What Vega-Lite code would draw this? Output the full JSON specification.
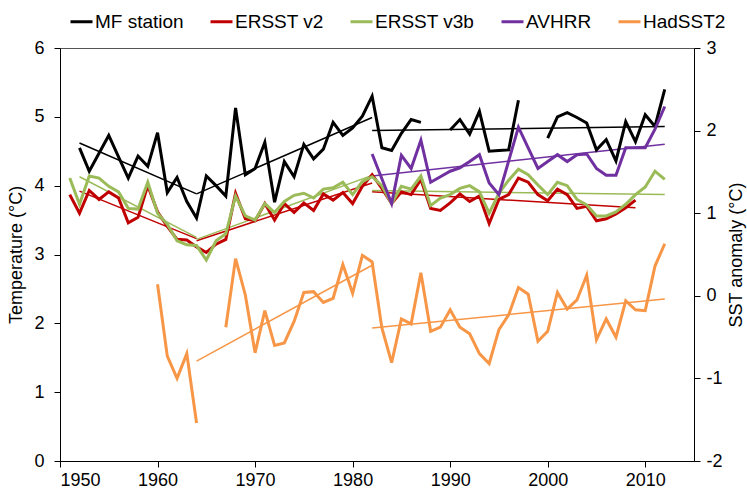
{
  "$schema": "https://vega.github.io/schema/vega-lite/v6.json",
  "width": 634,
  "height": 413,
  "autosize": {"type": "none"},
  "padding": {"left": 60, "top": 48, "right": 53, "bottom": 31},
  "background": "white",
  "config": {
    "view": {"stroke": "#555555", "strokeWidth": 1},
    "font": "Liberation Sans",
    "axis": {
      "grid": false,
      "domainColor": "#000000",
      "tickColor": "#000000",
      "labelColor": "#000000",
      "titleColor": "#000000",
      "labelFont": "Liberation Sans",
      "titleFont": "Liberation Sans",
      "labelFontSize": 18,
      "titleFontSize": 18,
      "titleFontWeight": "normal",
      "tickSize": 6,
      "domainWidth": 1
    }
  },
  "datasets": {
    "obs": [
      {"series":"MF station","seg":"MFa","year":1952,"value":4.55},
      {"series":"MF station","seg":"MFa","year":1953,"value":4.21},
      {"series":"MF station","seg":"MFa","year":1954,"value":4.47},
      {"series":"MF station","seg":"MFa","year":1955,"value":4.73},
      {"series":"MF station","seg":"MFa","year":1956,"value":4.42},
      {"series":"MF station","seg":"MFa","year":1957,"value":4.11},
      {"series":"MF station","seg":"MFa","year":1958,"value":4.43},
      {"series":"MF station","seg":"MFa","year":1959,"value":4.28},
      {"series":"MF station","seg":"MFa","year":1960,"value":4.77},
      {"series":"MF station","seg":"MFa","year":1961,"value":3.90},
      {"series":"MF station","seg":"MFa","year":1962,"value":4.12},
      {"series":"MF station","seg":"MFa","year":1963,"value":3.77},
      {"series":"MF station","seg":"MFa","year":1964,"value":3.53},
      {"series":"MF station","seg":"MFa","year":1965,"value":4.14},
      {"series":"MF station","seg":"MFa","year":1966,"value":4.00},
      {"series":"MF station","seg":"MFa","year":1967,"value":3.85},
      {"series":"MF station","seg":"MFa","year":1968,"value":5.13},
      {"series":"MF station","seg":"MFa","year":1969,"value":4.16},
      {"series":"MF station","seg":"MFa","year":1970,"value":4.25},
      {"series":"MF station","seg":"MFa","year":1971,"value":4.63},
      {"series":"MF station","seg":"MFa","year":1972,"value":3.76},
      {"series":"MF station","seg":"MFa","year":1973,"value":4.35},
      {"series":"MF station","seg":"MFa","year":1974,"value":4.13},
      {"series":"MF station","seg":"MFa","year":1975,"value":4.60},
      {"series":"MF station","seg":"MFa","year":1976,"value":4.39},
      {"series":"MF station","seg":"MFa","year":1977,"value":4.53},
      {"series":"MF station","seg":"MFa","year":1978,"value":4.92},
      {"series":"MF station","seg":"MFa","year":1979,"value":4.73},
      {"series":"MF station","seg":"MFa","year":1980,"value":4.84},
      {"series":"MF station","seg":"MFa","year":1981,"value":5.01},
      {"series":"MF station","seg":"MFa","year":1982,"value":5.30},
      {"series":"MF station","seg":"MFa","year":1983,"value":4.55},
      {"series":"MF station","seg":"MFa","year":1984,"value":4.51},
      {"series":"MF station","seg":"MFa","year":1985,"value":4.76},
      {"series":"MF station","seg":"MFa","year":1986,"value":4.96},
      {"series":"MF station","seg":"MFa","year":1987,"value":4.92},
      {"series":"MF station","seg":"MFb","year":1990,"value":4.81},
      {"series":"MF station","seg":"MFb","year":1991,"value":4.96},
      {"series":"MF station","seg":"MFb","year":1992,"value":4.75},
      {"series":"MF station","seg":"MFb","year":1993,"value":5.08},
      {"series":"MF station","seg":"MFb","year":1994,"value":4.50},
      {"series":"MF station","seg":"MFb","year":1995,"value":4.51},
      {"series":"MF station","seg":"MFb","year":1996,"value":4.52},
      {"series":"MF station","seg":"MFb","year":1997,"value":5.24},
      {"series":"MF station","seg":"MFc","year":2000,"value":4.69},
      {"series":"MF station","seg":"MFc","year":2001,"value":5.00},
      {"series":"MF station","seg":"MFc","year":2002,"value":5.06},
      {"series":"MF station","seg":"MFc","year":2003,"value":4.99},
      {"series":"MF station","seg":"MFc","year":2004,"value":4.91},
      {"series":"MF station","seg":"MFc","year":2005,"value":4.52},
      {"series":"MF station","seg":"MFc","year":2006,"value":4.67},
      {"series":"MF station","seg":"MFc","year":2007,"value":4.36},
      {"series":"MF station","seg":"MFc","year":2008,"value":4.93},
      {"series":"MF station","seg":"MFc","year":2009,"value":4.64},
      {"series":"MF station","seg":"MFc","year":2010,"value":5.03},
      {"series":"MF station","seg":"MFc","year":2011,"value":4.86},
      {"series":"MF station","seg":"MFc","year":2012,"value":5.40},

      {"series":"ERSST v2","seg":"V2","year":1951,"value":3.87},
      {"series":"ERSST v2","seg":"V2","year":1952,"value":3.60},
      {"series":"ERSST v2","seg":"V2","year":1953,"value":3.93},
      {"series":"ERSST v2","seg":"V2","year":1954,"value":3.80},
      {"series":"ERSST v2","seg":"V2","year":1955,"value":3.91},
      {"series":"ERSST v2","seg":"V2","year":1956,"value":3.82},
      {"series":"ERSST v2","seg":"V2","year":1957,"value":3.46},
      {"series":"ERSST v2","seg":"V2","year":1958,"value":3.54},
      {"series":"ERSST v2","seg":"V2","year":1959,"value":4.00},
      {"series":"ERSST v2","seg":"V2","year":1960,"value":3.62},
      {"series":"ERSST v2","seg":"V2","year":1961,"value":3.41},
      {"series":"ERSST v2","seg":"V2","year":1962,"value":3.22},
      {"series":"ERSST v2","seg":"V2","year":1963,"value":3.21},
      {"series":"ERSST v2","seg":"V2","year":1964,"value":3.11},
      {"series":"ERSST v2","seg":"V2","year":1965,"value":3.03},
      {"series":"ERSST v2","seg":"V2","year":1966,"value":3.15},
      {"series":"ERSST v2","seg":"V2","year":1967,"value":3.22},
      {"series":"ERSST v2","seg":"V2","year":1968,"value":3.89},
      {"series":"ERSST v2","seg":"V2","year":1969,"value":3.52},
      {"series":"ERSST v2","seg":"V2","year":1970,"value":3.49},
      {"series":"ERSST v2","seg":"V2","year":1971,"value":3.74},
      {"series":"ERSST v2","seg":"V2","year":1972,"value":3.50},
      {"series":"ERSST v2","seg":"V2","year":1973,"value":3.74},
      {"series":"ERSST v2","seg":"V2","year":1974,"value":3.61},
      {"series":"ERSST v2","seg":"V2","year":1975,"value":3.75},
      {"series":"ERSST v2","seg":"V2","year":1976,"value":3.64},
      {"series":"ERSST v2","seg":"V2","year":1977,"value":3.88},
      {"series":"ERSST v2","seg":"V2","year":1978,"value":3.79},
      {"series":"ERSST v2","seg":"V2","year":1979,"value":3.90},
      {"series":"ERSST v2","seg":"V2","year":1980,"value":3.74},
      {"series":"ERSST v2","seg":"V2","year":1981,"value":3.99},
      {"series":"ERSST v2","seg":"V2","year":1982,"value":4.16},
      {"series":"ERSST v2","seg":"V2","year":1983,"value":3.96},
      {"series":"ERSST v2","seg":"V2","year":1984,"value":3.74},
      {"series":"ERSST v2","seg":"V2","year":1985,"value":3.91},
      {"series":"ERSST v2","seg":"V2","year":1986,"value":3.87},
      {"series":"ERSST v2","seg":"V2","year":1987,"value":4.09},
      {"series":"ERSST v2","seg":"V2","year":1988,"value":3.67},
      {"series":"ERSST v2","seg":"V2","year":1989,"value":3.64},
      {"series":"ERSST v2","seg":"V2","year":1990,"value":3.75},
      {"series":"ERSST v2","seg":"V2","year":1991,"value":3.88},
      {"series":"ERSST v2","seg":"V2","year":1992,"value":3.77},
      {"series":"ERSST v2","seg":"V2","year":1993,"value":3.85},
      {"series":"ERSST v2","seg":"V2","year":1994,"value":3.45},
      {"series":"ERSST v2","seg":"V2","year":1995,"value":3.80},
      {"series":"ERSST v2","seg":"V2","year":1996,"value":3.87},
      {"series":"ERSST v2","seg":"V2","year":1997,"value":4.11},
      {"series":"ERSST v2","seg":"V2","year":1998,"value":4.05},
      {"series":"ERSST v2","seg":"V2","year":1999,"value":3.87},
      {"series":"ERSST v2","seg":"V2","year":2000,"value":3.78},
      {"series":"ERSST v2","seg":"V2","year":2001,"value":3.95},
      {"series":"ERSST v2","seg":"V2","year":2002,"value":3.87},
      {"series":"ERSST v2","seg":"V2","year":2003,"value":3.67},
      {"series":"ERSST v2","seg":"V2","year":2004,"value":3.70},
      {"series":"ERSST v2","seg":"V2","year":2005,"value":3.49},
      {"series":"ERSST v2","seg":"V2","year":2006,"value":3.52},
      {"series":"ERSST v2","seg":"V2","year":2007,"value":3.59},
      {"series":"ERSST v2","seg":"V2","year":2008,"value":3.68},
      {"series":"ERSST v2","seg":"V2","year":2009,"value":3.79},

      {"series":"ERSST v3b","seg":"V3","year":1951,"value":4.11},
      {"series":"ERSST v3b","seg":"V3","year":1952,"value":3.73},
      {"series":"ERSST v3b","seg":"V3","year":1953,"value":4.14},
      {"series":"ERSST v3b","seg":"V3","year":1954,"value":4.11},
      {"series":"ERSST v3b","seg":"V3","year":1955,"value":3.99},
      {"series":"ERSST v3b","seg":"V3","year":1956,"value":3.91},
      {"series":"ERSST v3b","seg":"V3","year":1957,"value":3.67},
      {"series":"ERSST v3b","seg":"V3","year":1958,"value":3.66},
      {"series":"ERSST v3b","seg":"V3","year":1959,"value":4.05},
      {"series":"ERSST v3b","seg":"V3","year":1960,"value":3.60},
      {"series":"ERSST v3b","seg":"V3","year":1961,"value":3.44},
      {"series":"ERSST v3b","seg":"V3","year":1962,"value":3.20},
      {"series":"ERSST v3b","seg":"V3","year":1963,"value":3.14},
      {"series":"ERSST v3b","seg":"V3","year":1964,"value":3.13},
      {"series":"ERSST v3b","seg":"V3","year":1965,"value":2.92},
      {"series":"ERSST v3b","seg":"V3","year":1966,"value":3.20},
      {"series":"ERSST v3b","seg":"V3","year":1967,"value":3.30},
      {"series":"ERSST v3b","seg":"V3","year":1968,"value":3.85},
      {"series":"ERSST v3b","seg":"V3","year":1969,"value":3.56},
      {"series":"ERSST v3b","seg":"V3","year":1970,"value":3.50},
      {"series":"ERSST v3b","seg":"V3","year":1971,"value":3.74},
      {"series":"ERSST v3b","seg":"V3","year":1972,"value":3.61},
      {"series":"ERSST v3b","seg":"V3","year":1973,"value":3.77},
      {"series":"ERSST v3b","seg":"V3","year":1974,"value":3.86},
      {"series":"ERSST v3b","seg":"V3","year":1975,"value":3.89},
      {"series":"ERSST v3b","seg":"V3","year":1976,"value":3.82},
      {"series":"ERSST v3b","seg":"V3","year":1977,"value":3.95},
      {"series":"ERSST v3b","seg":"V3","year":1978,"value":3.97},
      {"series":"ERSST v3b","seg":"V3","year":1979,"value":4.05},
      {"series":"ERSST v3b","seg":"V3","year":1980,"value":3.87},
      {"series":"ERSST v3b","seg":"V3","year":1981,"value":4.06},
      {"series":"ERSST v3b","seg":"V3","year":1982,"value":4.13},
      {"series":"ERSST v3b","seg":"V3","year":1983,"value":4.00},
      {"series":"ERSST v3b","seg":"V3","year":1984,"value":3.74},
      {"series":"ERSST v3b","seg":"V3","year":1985,"value":3.99},
      {"series":"ERSST v3b","seg":"V3","year":1986,"value":3.95},
      {"series":"ERSST v3b","seg":"V3","year":1987,"value":4.14},
      {"series":"ERSST v3b","seg":"V3","year":1988,"value":3.71},
      {"series":"ERSST v3b","seg":"V3","year":1989,"value":3.82},
      {"series":"ERSST v3b","seg":"V3","year":1990,"value":3.87},
      {"series":"ERSST v3b","seg":"V3","year":1991,"value":3.96},
      {"series":"ERSST v3b","seg":"V3","year":1992,"value":4.00},
      {"series":"ERSST v3b","seg":"V3","year":1993,"value":3.91},
      {"series":"ERSST v3b","seg":"V3","year":1994,"value":3.60},
      {"series":"ERSST v3b","seg":"V3","year":1995,"value":3.89},
      {"series":"ERSST v3b","seg":"V3","year":1996,"value":4.08},
      {"series":"ERSST v3b","seg":"V3","year":1997,"value":4.24},
      {"series":"ERSST v3b","seg":"V3","year":1998,"value":4.16},
      {"series":"ERSST v3b","seg":"V3","year":1999,"value":4.01},
      {"series":"ERSST v3b","seg":"V3","year":2000,"value":3.87},
      {"series":"ERSST v3b","seg":"V3","year":2001,"value":4.05},
      {"series":"ERSST v3b","seg":"V3","year":2002,"value":4.00},
      {"series":"ERSST v3b","seg":"V3","year":2003,"value":3.80},
      {"series":"ERSST v3b","seg":"V3","year":2004,"value":3.72},
      {"series":"ERSST v3b","seg":"V3","year":2005,"value":3.56},
      {"series":"ERSST v3b","seg":"V3","year":2006,"value":3.56},
      {"series":"ERSST v3b","seg":"V3","year":2007,"value":3.62},
      {"series":"ERSST v3b","seg":"V3","year":2008,"value":3.73},
      {"series":"ERSST v3b","seg":"V3","year":2009,"value":3.87},
      {"series":"ERSST v3b","seg":"V3","year":2010,"value":3.98},
      {"series":"ERSST v3b","seg":"V3","year":2011,"value":4.21},
      {"series":"ERSST v3b","seg":"V3","year":2012,"value":4.09},

      {"series":"AVHRR","seg":"AV","year":1982,"value":4.46},
      {"series":"AVHRR","seg":"AV","year":1983,"value":4.10},
      {"series":"AVHRR","seg":"AV","year":1984,"value":3.74},
      {"series":"AVHRR","seg":"AV","year":1985,"value":4.44},
      {"series":"AVHRR","seg":"AV","year":1986,"value":4.25},
      {"series":"AVHRR","seg":"AV","year":1987,"value":4.66},
      {"series":"AVHRR","seg":"AV","year":1988,"value":4.05},
      {"series":"AVHRR","seg":"AV","year":1989,"value":4.13},
      {"series":"AVHRR","seg":"AV","year":1990,"value":4.21},
      {"series":"AVHRR","seg":"AV","year":1991,"value":4.26},
      {"series":"AVHRR","seg":"AV","year":1992,"value":4.35},
      {"series":"AVHRR","seg":"AV","year":1993,"value":4.45},
      {"series":"AVHRR","seg":"AV","year":1994,"value":4.04},
      {"series":"AVHRR","seg":"AV","year":1995,"value":3.87},
      {"series":"AVHRR","seg":"AV","year":1996,"value":4.36},
      {"series":"AVHRR","seg":"AV","year":1997,"value":4.85},
      {"series":"AVHRR","seg":"AV","year":1998,"value":4.55},
      {"series":"AVHRR","seg":"AV","year":1999,"value":4.25},
      {"series":"AVHRR","seg":"AV","year":2000,"value":4.35},
      {"series":"AVHRR","seg":"AV","year":2001,"value":4.45},
      {"series":"AVHRR","seg":"AV","year":2002,"value":4.35},
      {"series":"AVHRR","seg":"AV","year":2003,"value":4.45},
      {"series":"AVHRR","seg":"AV","year":2004,"value":4.46},
      {"series":"AVHRR","seg":"AV","year":2005,"value":4.25},
      {"series":"AVHRR","seg":"AV","year":2006,"value":4.15},
      {"series":"AVHRR","seg":"AV","year":2007,"value":4.15},
      {"series":"AVHRR","seg":"AV","year":2008,"value":4.55},
      {"series":"AVHRR","seg":"AV","year":2009,"value":4.55},
      {"series":"AVHRR","seg":"AV","year":2010,"value":4.55},
      {"series":"AVHRR","seg":"AV","year":2011,"value":4.82},
      {"series":"AVHRR","seg":"AV","year":2012,"value":5.15}
    ],
    "had": [
      {"series":"HadSST2","seg":"Ha","year":1960,"value":0.14},
      {"series":"HadSST2","seg":"Ha","year":1961,"value":-0.73},
      {"series":"HadSST2","seg":"Ha","year":1962,"value":-1.00},
      {"series":"HadSST2","seg":"Ha","year":1963,"value":-0.70},
      {"series":"HadSST2","seg":"Ha","year":1964,"value":-1.54},
      {"series":"HadSST2","seg":"Hb","year":1967,"value":-0.38},
      {"series":"HadSST2","seg":"Hb","year":1968,"value":0.45},
      {"series":"HadSST2","seg":"Hb","year":1969,"value":0.01},
      {"series":"HadSST2","seg":"Hb","year":1970,"value":-0.69},
      {"series":"HadSST2","seg":"Hb","year":1971,"value":-0.18},
      {"series":"HadSST2","seg":"Hb","year":1972,"value":-0.60},
      {"series":"HadSST2","seg":"Hb","year":1973,"value":-0.57},
      {"series":"HadSST2","seg":"Hb","year":1974,"value":-0.31},
      {"series":"HadSST2","seg":"Hb","year":1975,"value":0.04},
      {"series":"HadSST2","seg":"Hb","year":1976,"value":0.05},
      {"series":"HadSST2","seg":"Hb","year":1977,"value":-0.08},
      {"series":"HadSST2","seg":"Hb","year":1978,"value":-0.03},
      {"series":"HadSST2","seg":"Hb","year":1979,"value":0.38},
      {"series":"HadSST2","seg":"Hb","year":1980,"value":0.03},
      {"series":"HadSST2","seg":"Hb","year":1981,"value":0.49},
      {"series":"HadSST2","seg":"Hb","year":1982,"value":0.41},
      {"series":"HadSST2","seg":"Hb","year":1983,"value":-0.39},
      {"series":"HadSST2","seg":"Hb","year":1984,"value":-0.81},
      {"series":"HadSST2","seg":"Hb","year":1985,"value":-0.28},
      {"series":"HadSST2","seg":"Hb","year":1986,"value":-0.34},
      {"series":"HadSST2","seg":"Hb","year":1987,"value":0.28},
      {"series":"HadSST2","seg":"Hb","year":1988,"value":-0.43},
      {"series":"HadSST2","seg":"Hb","year":1989,"value":-0.38},
      {"series":"HadSST2","seg":"Hb","year":1990,"value":-0.17},
      {"series":"HadSST2","seg":"Hb","year":1991,"value":-0.38},
      {"series":"HadSST2","seg":"Hb","year":1992,"value":-0.46},
      {"series":"HadSST2","seg":"Hb","year":1993,"value":-0.70},
      {"series":"HadSST2","seg":"Hb","year":1994,"value":-0.82},
      {"series":"HadSST2","seg":"Hb","year":1995,"value":-0.41},
      {"series":"HadSST2","seg":"Hb","year":1996,"value":-0.23},
      {"series":"HadSST2","seg":"Hb","year":1997,"value":0.10},
      {"series":"HadSST2","seg":"Hb","year":1998,"value":0.02},
      {"series":"HadSST2","seg":"Hb","year":1999,"value":-0.55},
      {"series":"HadSST2","seg":"Hb","year":2000,"value":-0.43},
      {"series":"HadSST2","seg":"Hb","year":2001,"value":0.04},
      {"series":"HadSST2","seg":"Hb","year":2002,"value":-0.16},
      {"series":"HadSST2","seg":"Hb","year":2003,"value":-0.05},
      {"series":"HadSST2","seg":"Hb","year":2004,"value":0.25},
      {"series":"HadSST2","seg":"Hb","year":2005,"value":-0.53},
      {"series":"HadSST2","seg":"Hb","year":2006,"value":-0.28},
      {"series":"HadSST2","seg":"Hb","year":2007,"value":-0.50},
      {"series":"HadSST2","seg":"Hb","year":2008,"value":-0.06},
      {"series":"HadSST2","seg":"Hb","year":2009,"value":-0.17},
      {"series":"HadSST2","seg":"Hb","year":2010,"value":-0.18},
      {"series":"HadSST2","seg":"Hb","year":2011,"value":0.36},
      {"series":"HadSST2","seg":"Hb","year":2012,"value":0.63}
    ],
    "trend": [
      {"series":"MF station","seg":"tMFa","year":1952,"value":4.62},
      {"series":"MF station","seg":"tMFa","year":1964,"value":3.88},
      {"series":"MF station","seg":"tMFb","year":1964,"value":3.88},
      {"series":"MF station","seg":"tMFb","year":1982,"value":4.99},
      {"series":"MF station","seg":"tMFc","year":1982,"value":4.80},
      {"series":"MF station","seg":"tMFc","year":2012,"value":4.86},
      {"series":"ERSST v2","seg":"tV2a","year":1952,"value":3.92},
      {"series":"ERSST v2","seg":"tV2a","year":1964,"value":3.23},
      {"series":"ERSST v2","seg":"tV2b","year":1964,"value":3.20},
      {"series":"ERSST v2","seg":"tV2b","year":1982,"value":4.04},
      {"series":"ERSST v2","seg":"tV2c","year":1982,"value":3.91},
      {"series":"ERSST v2","seg":"tV2c","year":2009,"value":3.68},
      {"series":"ERSST v3b","seg":"tV3a","year":1952,"value":4.13},
      {"series":"ERSST v3b","seg":"tV3a","year":1964,"value":3.25},
      {"series":"ERSST v3b","seg":"tV3b","year":1964,"value":3.22},
      {"series":"ERSST v3b","seg":"tV3b","year":1982,"value":4.15},
      {"series":"ERSST v3b","seg":"tV3c","year":1982,"value":3.93},
      {"series":"ERSST v3b","seg":"tV3c","year":2012,"value":3.87},
      {"series":"AVHRR","seg":"tAV","year":1982,"value":4.14},
      {"series":"AVHRR","seg":"tAV","year":2012,"value":4.60}
    ],
    "hadtrend": [
      {"series":"HadSST2","seg":"tHa","year":1964,"value":-0.79},
      {"series":"HadSST2","seg":"tHa","year":1982,"value":0.37},
      {"series":"HadSST2","seg":"tHb","year":1982,"value":-0.39},
      {"series":"HadSST2","seg":"tHb","year":2012,"value":-0.04}
    ]
  },
  "layer": [
    {
      "layer": [
        {
          "data": {"name": "trend"},
          "mark": {"type": "line", "strokeWidth": 1.5},
          "encoding": {
            "x": {"field": "year", "type": "quantitative", "scale": {"domain": [1950, 2015], "nice": false, "zero": false},
                  "axis": {"title": null, "values": [1950, 1960, 1970, 1980, 1990, 2000, 2010], "format": "d", "labelPadding": 4, "tickSize": 6}},
            "y": {"field": "value", "type": "quantitative", "scale": {"domain": [0, 6], "nice": false, "zero": false},
                  "axis": {"title": "Temperature (°C)", "orient": "left", "values": [0, 1, 2, 3, 4, 5, 6], "labelExpr": "'' + datum.value", "labelPadding": 10, "titlePadding": 8}},
            "color": {"field": "series", "type": "nominal",
                      "scale": {"domain": ["MF station", "ERSST v2", "ERSST v3b", "AVHRR", "HadSST2"], "range": ["#000000", "#C00000", "#9BBB59", "#7030A0", "#F79646"]},
                      "legend": {"title": null, "orient": "none", "direction": "horizontal", "legendX": 9, "legendY": -39, "symbolType": "stroke", "symbolSize": 484, "symbolStrokeWidth": 3, "labelFontSize": 19, "labelFont": "Liberation Sans", "labelColor": "#000000", "labelOffset": 1, "columnPadding": 20, "padding": 0, "labelLimit": 300}},
            "detail": {"field": "seg"}
          }
        },
        {
          "data": {"name": "obs"},
          "mark": {"type": "line", "strokeWidth": 3, "strokeJoin": "miter"},
          "encoding": {
            "x": {"field": "year", "type": "quantitative"},
            "y": {"field": "value", "type": "quantitative"},
            "color": {"field": "series", "type": "nominal",
                      "legend": {"title": null, "orient": "none", "direction": "horizontal", "legendX": 9, "legendY": -39, "symbolType": "stroke", "symbolSize": 484, "symbolStrokeWidth": 3, "labelFontSize": 19, "labelFont": "Liberation Sans", "labelColor": "#000000", "labelOffset": 1, "columnPadding": 20, "padding": 0, "labelLimit": 300}},
            "detail": {"field": "seg"}
          }
        }
      ]
    },
    {
      "layer": [
        {
          "data": {"name": "hadtrend"},
          "mark": {"type": "line", "strokeWidth": 1.5},
          "encoding": {
            "x": {"field": "year", "type": "quantitative"},
            "y": {"field": "value", "type": "quantitative", "scale": {"domain": [-2, 3], "nice": false, "zero": false},
                  "axis": {"title": "SST anomaly (°C)", "orient": "right", "values": [-2, -1, 0, 1, 2, 3], "labelExpr": "'' + datum.value", "labelPadding": 6, "titlePadding": 5, "titleAngle": 270, "titleBaseline": "top"}},
            "color": {"field": "series", "type": "nominal",
                      "legend": {"title": null, "orient": "none", "direction": "horizontal", "legendX": 9, "legendY": -39, "symbolType": "stroke", "symbolSize": 484, "symbolStrokeWidth": 3, "labelFontSize": 19, "labelFont": "Liberation Sans", "labelColor": "#000000", "labelOffset": 1, "columnPadding": 20, "padding": 0, "labelLimit": 300}},
            "detail": {"field": "seg"}
          }
        },
        {
          "data": {"name": "had"},
          "mark": {"type": "line", "strokeWidth": 3, "strokeJoin": "miter"},
          "encoding": {
            "x": {"field": "year", "type": "quantitative"},
            "y": {"field": "value", "type": "quantitative"},
            "color": {"field": "series", "type": "nominal",
                      "legend": {"title": null, "orient": "none", "direction": "horizontal", "legendX": 9, "legendY": -39, "symbolType": "stroke", "symbolSize": 484, "symbolStrokeWidth": 3, "labelFontSize": 19, "labelFont": "Liberation Sans", "labelColor": "#000000", "labelOffset": 1, "columnPadding": 20, "padding": 0, "labelLimit": 300}},
            "detail": {"field": "seg"}
          }
        }
      ]
    }
  ],
  "resolve": {"scale": {"y": "independent"}}
}
